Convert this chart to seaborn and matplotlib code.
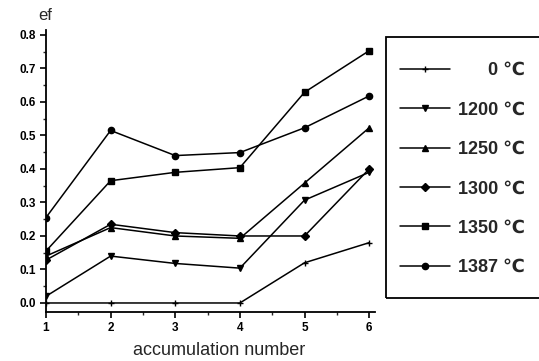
import matplotlib
matplotlib.use("Agg")
import matplotlib.pyplot as plt
import numpy as np
import pandas as pd
import seaborn as sns
from matplotlib.ticker import MultipleLocator

# 데이터
accum = [1, 2, 3, 4, 5, 6]
temps = ["0 ℃", "1200 ℃", "1250 ℃", "1300 ℃", "1350 ℃", "1387 ℃"]
ef_0 = [0.0, 0.0, 0.0, 0.0, 0.12, 0.18]
ef_1200 = [0.02, 0.14, 0.118, 0.104, 0.307, 0.39]
ef_1250 = [0.14, 0.225, 0.20, 0.193, 0.358, 0.523]
ef_1300 = [0.128, 0.235, 0.21, 0.20, 0.20, 0.40]
ef_1350 = [0.155, 0.365, 0.39, 0.404, 0.629, 0.753]
ef_1387 = [0.255, 0.515, 0.44, 0.449, 0.523, 0.618]
series = [ef_0, ef_1200, ef_1250, ef_1300, ef_1350, ef_1387]
markers = ["+", "v", "^", "D", "s", "o"]
msizes = [5, 5, 5, 4.5, 4.5, 4.5]

sns.set_style("ticks")
plt.rcParams["font.family"] = ["Liberation Sans", "DejaVu Sans"]

df = pd.DataFrame({
    "accumulation": np.tile(accum, len(temps)),
    "ef": np.concatenate(series),
    "temp": np.repeat(temps, len(accum)),
})

fig = plt.figure(figsize=(5.39, 3.61), dpi=100)
ax = fig.add_axes([0.0853, 0.1366, 0.6104, 0.7804])

for t, m, ms in zip(temps, markers, msizes):
    sub = df[df["temp"] == t]
    sns.lineplot(data=sub, x="accumulation", y="ef", color="black",
                 marker=m, markersize=ms, linewidth=1.1,
                 markeredgecolor="black", markeredgewidth=1.0, ax=ax,
                 label=t)

ax.set_xlim(1, 6.09)
ax.set_ylim(-0.026, 0.815)
ax.xaxis.set_major_locator(MultipleLocator(1))
ax.xaxis.set_minor_locator(MultipleLocator(0.5))
ax.yaxis.set_minor_locator(MultipleLocator(0.05))
ax.set_yticks(np.arange(0, 0.81, 0.1))
ax.set_yticklabels([f"{v:.1f}" for v in np.arange(0, 0.81, 0.1)])
sns.despine(ax=ax)
for s in ["left", "bottom"]:
    ax.spines[s].set_linewidth(1.3)
    ax.spines[s].set_color("black")
ax.tick_params(which="major", direction="out", length=4, width=1.2,
               labelsize=8.5, colors="black")
ax.tick_params(which="minor", direction="out", length=2, width=1)
for lab in ax.get_xticklabels() + ax.get_yticklabels():
    lab.set_fontweight("bold")

ax.set_xlabel("accumulation number", fontsize=13)
ax.xaxis.set_label_coords(0.527, -0.107)
ax.set_ylabel("")
ax.text(-0.024, 1.035, "ef", transform=ax.transAxes, fontsize=12,
        ha="left", va="baseline")

# 범례 (테두리는 따로 그림, 라벨은 공백으로 오른쪽 정렬 흉내)
handles, _ = ax.get_legend_handles_labels()
ax.get_legend().remove()
pad = {"0 ℃": "      0 ℃"}
labels = [pad.get(t, t) for t in temps]
leg = fig.legend(handles, labels, loc="upper left",
                 bbox_to_anchor=(0.742, 0.828), borderaxespad=0,
                 frameon=False, handlelength=2.77, handletextpad=0.45,
                 labelspacing=1.24, borderpad=0,
                 prop={"size": 13, "weight": "bold"})
fig.add_artist(plt.Rectangle((0.7156, 0.175), 0.3, 0.723,
                             transform=fig.transFigure, fill=False,
                             edgecolor="black", linewidth=1.3))

fig.savefig("out.png", dpi=100)
